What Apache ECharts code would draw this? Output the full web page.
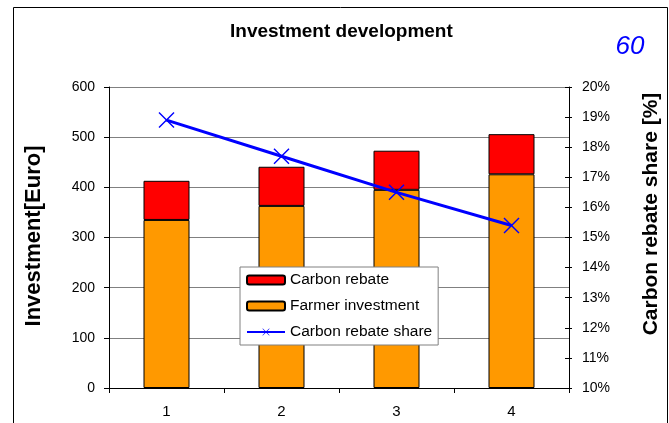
<!DOCTYPE html>
<html>
<head>
<meta charset="utf-8">
<script src="https://cdn.jsdelivr.net/npm/echarts@6/dist/echarts.min.js"></script>
<style>
html,body{margin:0;padding:0;background:#fff;}
#chart{width:669px;height:423px;}
</style>
</head>
<body>
<div id="chart"></div>
<script>
var categories = ['1', '2', '3', '4'];
var farmerInvestment = [335, 363, 395, 426];
var carbonRebate = [78, 78, 78, 80];
var rebateShare = [18.9, 17.7, 16.5, 15.4];
var leftTicks = [0, 100, 200, 300, 400, 500, 600];
var rightTicks = [10, 11, 12, 13, 14, 15, 16, 17, 18, 19, 20];

var FONT = '"Liberation Sans", Arial, sans-serif';
var xSymbol = 'path://M0,1L1,0L8,7L15,0L16,1L9,8L16,15L15,16L8,9L1,16L0,15L7,8Z';

var chart = echarts.init(document.getElementById('chart'), null, {renderer: 'canvas'});
chart.setOption({
  animation: false,
  backgroundColor: '#fff',
  textStyle: {fontFamily: FONT},
  title: {
    text: 'Investment development',
    left: 225, top: 17,
    textStyle: {fontFamily: FONT, fontSize: 19, fontWeight: 'bold', color: '#000'}
  },
  grid: {left: 109, right: 100, top: 87, bottom: 35, containLabel: false},
  legend: {
    orient: 'vertical',
    left: 240, top: 267,
    padding: [5, 6, 5, 6],
    itemGap: 10,
    itemWidth: 38, itemHeight: 9,
    backgroundColor: '#fff',
    borderColor: '#808080', borderWidth: 1,
    data: ['Carbon rebate', 'Farmer investment', 'Carbon rebate share'],
    textStyle: {fontFamily: FONT, fontSize: 15.5, color: '#000'}
  },
  xAxis: {
    type: 'category',
    data: categories,
    boundaryGap: true,
    axisLine: {lineStyle: {color: '#000', width: 1}},
    axisTick: {show: true, inside: false, length: 5, lineStyle: {color: '#000'}},
    axisLabel: {fontFamily: FONT, fontSize: 15, color: '#000', margin: 16},
    splitLine: {show: false}
  },
  yAxis: [
    {
      type: 'value', position: 'left', min: leftTicks[0], max: leftTicks[leftTicks.length - 1], interval: 100,
      axisLine: {show: true, lineStyle: {color: '#000'}},
      axisTick: {show: true, inside: false, length: 5, lineStyle: {color: '#000'}},
      axisLabel: {fontFamily: FONT, fontSize: 14, color: '#000', margin: 14},
      splitLine: {show: true, lineStyle: {color: '#808080', width: 1}}
    },
    {
      type: 'value', position: 'right', min: rightTicks[0], max: rightTicks[rightTicks.length - 1], interval: 1,
      axisLine: {show: true, lineStyle: {color: '#000'}},
      axisTick: {show: true, inside: true, length: 4, lineStyle: {color: '#000'}},
      axisLabel: {fontFamily: FONT, fontSize: 14, color: '#000', margin: 13, formatter: '{value}%'},
      splitLine: {show: false}
    },
    {
      type: 'value', position: 'right', min: rightTicks[0], max: rightTicks[rightTicks.length - 1], interval: 1,
      axisLine: {show: false},
      axisTick: {show: true, inside: false, length: 3, lineStyle: {color: '#000'}},
      axisLabel: {show: false},
      splitLine: {show: false}
    }
  ],
  series: [
    {
      name: 'Farmer investment', type: 'bar', stack: 'inv', yAxisIndex: 0,
      barWidth: 46,
      data: farmerInvestment,
      itemStyle: {color: '#FF9900', borderColor: '#000', borderWidth: 1}
    },
    {
      name: 'Carbon rebate', type: 'bar', stack: 'inv', yAxisIndex: 0,
      barWidth: 46,
      data: carbonRebate,
      itemStyle: {color: '#FF0000', borderColor: '#000', borderWidth: 1}
    },
    {
      name: 'Carbon rebate share', type: 'line', yAxisIndex: 1,
      data: rebateShare,
      symbol: xSymbol, symbolSize: 16, showSymbol: true,
      lineStyle: {color: '#0000FF', width: 3},
      itemStyle: {color: '#0000FF'},
      z: 3
    }
  ],
  graphic: [
    {type: 'rect', shape: {x: 13.5, y: 7.5, width: 654, height: 500}, style: {fill: 'none', stroke: '#000', lineWidth: 1}, silent: true, z: -1},
    {type: 'text', x: 630, y: 47, style: {text: '60', fill: '#0000FF', font: 'italic 26px ' + FONT, align: 'center', verticalAlign: 'middle'}},
    {type: 'text', x: 34, y: 236, rotation: Math.PI / 2, style: {text: 'Investment[Euro]', fill: '#000', font: 'bold 22px ' + FONT, align: 'center', verticalAlign: 'middle'}},
    {type: 'text', x: 651, y: 214, rotation: Math.PI / 2, style: {text: 'Carbon rebate share [%]', fill: '#000', font: 'bold 21px ' + FONT, align: 'center', verticalAlign: 'middle'}}
  ]
});
</script>
</body>
</html>
